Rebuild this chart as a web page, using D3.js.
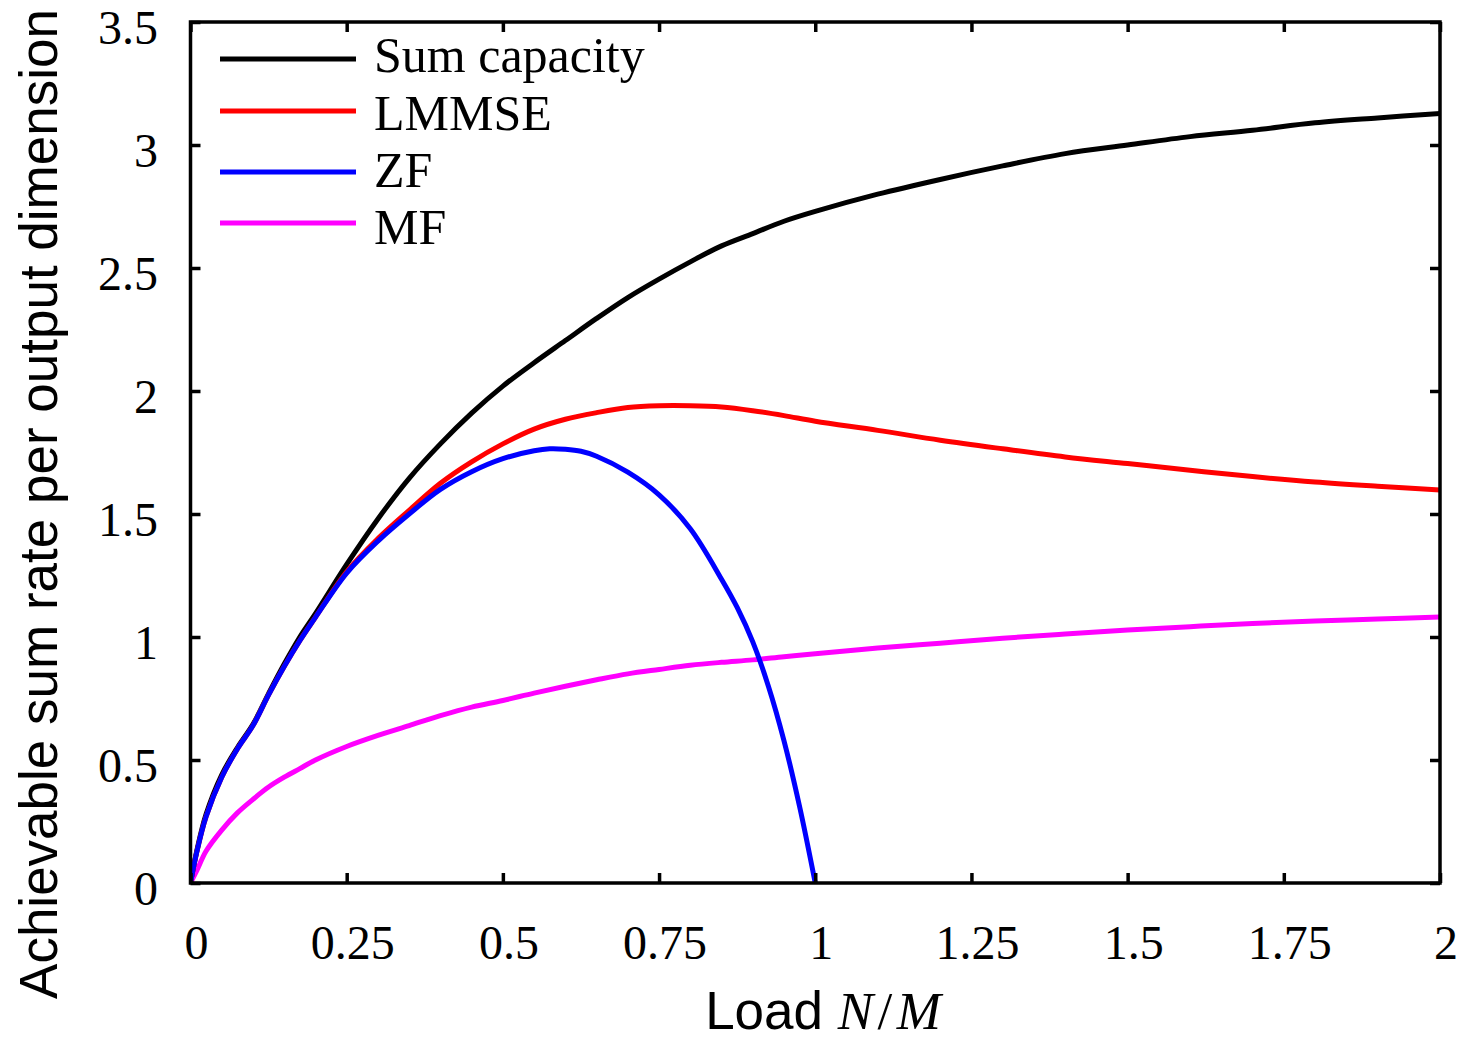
<!DOCTYPE html>
<html>
<head>
<meta charset="utf-8">
<script src="https://cdn.jsdelivr.net/npm/d3@7/dist/d3.min.js"></script>
<style>
  html, body { margin: 0; padding: 0; background: #fff; }
  svg { display: block; }
</style>
</head>
<body>
<svg id="chart" width="1462" height="1039"></svg>
<script>
// ---- data ----
const loads = [0, 0.01, 0.025, 0.05, 0.075, 0.1, 0.125, 0.15, 0.175, 0.2, 0.25, 0.3, 0.35, 0.4, 0.45, 0.5,
  0.55, 0.6, 0.65, 0.7, 0.75, 0.8, 0.85, 0.9, 0.95, 1.0, 1.1, 1.2, 1.3, 1.4, 1.5, 1.6, 1.7, 1.8, 1.9, 2.0];

const sumCapacity = [0, 0.13, 0.28, 0.44, 0.55, 0.645, 0.77, 0.89, 1.0, 1.095, 1.295, 1.48, 1.645, 1.785, 1.91, 2.02,
  2.115, 2.205, 2.295, 2.38, 2.455, 2.525, 2.59, 2.64, 2.69, 2.73, 2.80, 2.86, 2.915, 2.965, 3.00, 3.034, 3.06, 3.09, 3.11, 3.128];

const lmmse = [0, 0.125, 0.27, 0.43, 0.545, 0.64, 0.765, 0.88, 0.985, 1.08, 1.265, 1.40, 1.515, 1.625, 1.712, 1.785,
  1.845, 1.885, 1.912, 1.933, 1.94, 1.94, 1.935, 1.92, 1.90, 1.877, 1.84, 1.80, 1.765, 1.732, 1.705, 1.678, 1.652, 1.63, 1.613, 1.598];

const zfLoads = [0, 0.01, 0.025, 0.05, 0.075, 0.1, 0.125, 0.15, 0.175, 0.2, 0.25, 0.3, 0.35, 0.4, 0.45, 0.5,
  0.55, 0.575, 0.6, 0.625, 0.65, 0.7, 0.75, 0.8, 0.85, 0.875, 0.9, 0.925, 0.95, 0.975, 1.0];
const zf = [0, 0.125, 0.27, 0.43, 0.545, 0.64, 0.765, 0.88, 0.985, 1.08, 1.26, 1.39, 1.50, 1.60, 1.672, 1.725,
  1.757, 1.765, 1.763, 1.755, 1.735, 1.67, 1.578, 1.44, 1.235, 1.12, 0.98, 0.80, 0.578, 0.31, 0.0];

const mf = [0, 0.05, 0.13, 0.215, 0.285, 0.34, 0.39, 0.43, 0.465, 0.50, 0.555, 0.60, 0.64, 0.68, 0.715, 0.742,
  0.772, 0.80, 0.826, 0.85, 0.868, 0.885, 0.897, 0.907, 0.92, 0.932, 0.955, 0.975, 0.995, 1.012, 1.028, 1.042, 1.055, 1.065, 1.073, 1.081];

const xTicks = [0, 0.25, 0.5, 0.75, 1, 1.25, 1.5, 1.75, 2];
const xTickLabels = ["0", "0.25", "0.5", "0.75", "1", "1.25", "1.5", "1.75", "2"];
const yTicks = [0, 0.5, 1, 1.5, 2, 2.5, 3, 3.5];
const yTickLabels = ["0", "0.5", "1", "1.5", "2", "2.5", "3", "3.5"];

const seriesNames = ["Sum capacity", "LMMSE", "ZF", "MF"];
const seriesColors = ["#000000", "#ff0000", "#0000ff", "#ff00ff"];

// ---- layout ----
const svg = d3.select("#chart");
const L = 190.5, R = 1440, T = 22, B = 883;
const x = d3.scaleLinear().domain([0, 2]).range([L, R]);
const y = d3.scaleLinear().domain([0, 3.5]).range([B, T]);

const serif = "'Liberation Serif', 'Times New Roman', Times, serif";
const sans = "'Liberation Sans', Arial, Helvetica, sans-serif";

// curves
const series = [
  { xs: loads, ys: sumCapacity },
  { xs: loads, ys: lmmse },
  { xs: zfLoads, ys: zf },
  { xs: loads, ys: mf }
];
const line = d3.line().x(d => x(d[0])).y(d => y(d[1])).curve(d3.curveCatmullRom.alpha(0.5));

svg.append("clipPath").attr("id", "clip")
  .append("rect").attr("x", L).attr("y", T).attr("width", R - L).attr("height", B - T + 3);

const plot = svg.append("g").attr("clip-path", "url(#clip)");
const drawOrder = [3, 0, 1, 2];
drawOrder.forEach(i => {
  const s = series[i];
  plot.append("path")
    .datum(s.xs.map((v, k) => [v, s.ys[k]]))
    .attr("fill", "none")
    .attr("stroke", seriesColors[i])
    .attr("stroke-width", 5)
    .attr("stroke-linejoin", "round")
    .attr("d", line);
});

// axes (ticks inward, mirrored)
const tickLen = 10;
const axB = svg.append("g").attr("transform", `translate(0,${B})`)
  .call(d3.axisBottom(x).tickValues(xTicks).tickSizeInner(-tickLen).tickSizeOuter(0).tickFormat(""));
const axT = svg.append("g").attr("transform", `translate(0,${T})`)
  .call(d3.axisTop(x).tickValues(xTicks).tickSizeInner(-tickLen).tickSizeOuter(0).tickFormat(""));
const axL = svg.append("g").attr("transform", `translate(${L},0)`)
  .call(d3.axisLeft(y).tickValues(yTicks).tickSizeInner(-tickLen).tickSizeOuter(0).tickFormat(""));
const axR = svg.append("g").attr("transform", `translate(${R},0)`)
  .call(d3.axisRight(y).tickValues(yTicks).tickSizeInner(-tickLen).tickSizeOuter(0).tickFormat(""));
[axB, axT, axL, axR].forEach(a => {
  a.select(".domain").remove();
  a.selectAll(".tick line").attr("stroke", "#000").attr("stroke-width", 3.5);
});

// frame
svg.append("rect").attr("x", L).attr("y", T).attr("width", R - L).attr("height", B - T)
  .attr("fill", "none").attr("stroke", "#000").attr("stroke-width", 3.5);

// tick labels
svg.append("g").selectAll("text").data(xTicks).join("text")
  .attr("x", d => x(d) + 6).attr("y", 959)
  .attr("text-anchor", "middle")
  .attr("font-family", serif).attr("font-size", 48)
  .text((d, i) => xTickLabels[i]);

svg.append("g").selectAll("text").data(yTicks).join("text")
  .attr("x", 158).attr("y", d => y(d) + 22)
  .attr("text-anchor", "end")
  .attr("font-family", serif).attr("font-size", 48)
  .text((d, i) => yTickLabels[i]);

// axis titles
svg.append("text")
  .attr("transform", "translate(57,504) rotate(-90)")
  .attr("text-anchor", "middle")
  .attr("font-family", sans).attr("font-size", 53)
  .text("Achievable sum rate per output dimension");

const xt = svg.append("text")
  .attr("x", 823).attr("y", 1029)
  .attr("text-anchor", "middle")
  .attr("font-family", sans).attr("font-size", 53);
xt.append("tspan").text("Load ");
xt.append("tspan").attr("font-family", serif).attr("font-style", "italic").attr("font-size", 53).text("N");
xt.append("tspan").attr("font-family", serif).attr("font-size", 53).text("\u200A/\u200A");
xt.append("tspan").attr("font-family", serif).attr("font-style", "italic").attr("font-size", 53).text("M");

// legend
const legLineY = [59, 111, 172, 223];
const legTextY = [72, 130, 187, 244];
const leg = svg.append("g");
seriesNames.forEach((name, i) => {
  leg.append("line")
    .attr("x1", 220).attr("x2", 356)
    .attr("y1", legLineY[i]).attr("y2", legLineY[i])
    .attr("stroke", seriesColors[i]).attr("stroke-width", 5);
  leg.append("text")
    .attr("x", 374).attr("y", legTextY[i])
    .attr("font-family", serif).attr("font-size", 50)
    .text(name);
});
</script>
</body>
</html>
